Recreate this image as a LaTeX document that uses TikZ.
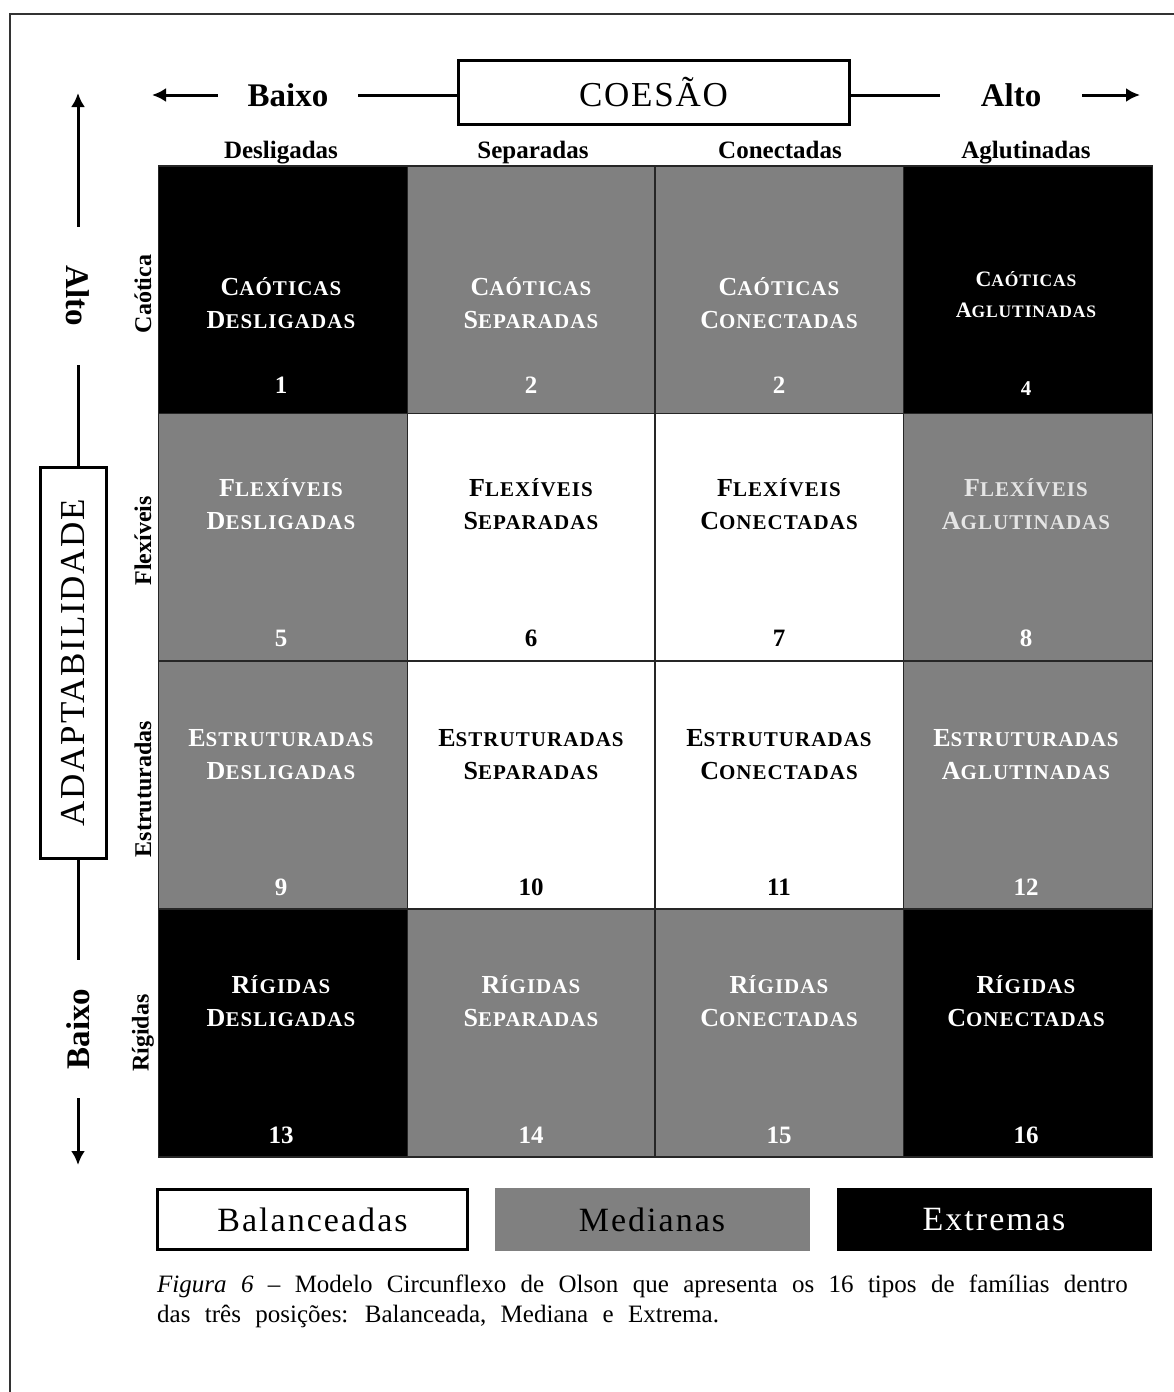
\documentclass[tikz,border=0pt]{standalone}
\usepackage{fontspec}
\setmainfont{Liberation Serif}
\newfontfamily\spaced[LetterSpace=5]{Liberation Serif}
\newfontfamily\wide[LetterSpace=6]{Liberation Serif}
\newfontfamily\captfont[WordSpace=2.3]{Liberation Serif}
\usetikzlibrary{arrows.meta}

% small caps by hand: big first letter, small rest
\newcommand{\smc}[2]{{\fontsize{26}{33}\selectfont #1}#2}
\newcommand{\smcs}[2]{{\fontsize{22}{31}\selectfont #1}#2}

\tikzset{
  cell/.style={minimum width=249, minimum height=248, draw=black!85, line width=1.5, inner sep=0},
  cellblack/.style={cell, fill=black},
  cellgray/.style={cell, fill=black!50},
  cellwhite/.style={cell, fill=white},
  celltext/.style={align=center, text=white, font=\spaced\bfseries\fontsize{21}{33}\selectfont},
  cellnum/.style={text=white, font=\bfseries\fontsize{25}{30}\selectfont},
  colhead/.style={anchor=base, font=\bfseries\fontsize{25}{30}\selectfont},
  rowhead/.style={rotate=90, font=\bfseries\fontsize{24}{28}\selectfont},
  axisword/.style={font=\bfseries\fontsize{33}{40}\selectfont, inner sep=0},
  axisline/.style={line width=3},
  titlebox/.style={draw, line width=3, fill=white, font=\spaced\fontsize{35}{40}\selectfont},
  legbox/.style={minimum width=315, minimum height=63, inner sep=0, font=\wide\fontsize{34}{40}\selectfont}
}

\begin{document}
\begin{tikzpicture}[x=1pt, y=-1pt]
  \useasboundingbox (0,0) rectangle (1174,1392);

  %%%%%%%%%%%Outer frame%%%%%%%%%%%
  \draw[line width=2, black!80] (10,1400) -- (10,14) -- (1180,14);

  %%%%%%%%%%%Cohesion axis%%%%%%%%%%%
  \node[titlebox, minimum width=391, minimum height=64] (coesao) at (653.5,92) {COESÃO};
  \node[axisword, minimum width=140] (baixoT) at (288,95) {Baixo};
  \node[axisword, minimum width=142] (altoT) at (1011,95) {Alto};
  \coordinate (tipL) at (152,95);
  \coordinate (tipR) at (1140,95);
  \draw[axisline, -{Latex[length=14,width=14]}] (baixoT.west) -- (tipL);
  \draw[axisline] (baixoT.east) -- (baixoT.east -| coesao.west);
  \draw[axisline] (altoT.west -| coesao.east) -- (altoT.west);
  \draw[axisline, -{Latex[length=14,width=14]}] (altoT.east) -- (tipR);

  \node[colhead] (hdes) at (281,158) {Desligadas};
  \node[colhead] (hsep) at (533,158) {Separadas};
  \node[colhead] (hcon) at (780,158) {Conectadas};
  \node[colhead] (hagl) at (1026,158) {Aglutinadas};

  %%%%%%%%%%%Adaptability axis%%%%%%%%%%%
  \node[titlebox, rotate=90, minimum width=391, minimum height=66] (adapt) at (73,662.5) {ADAPTABILIDADE};
  \node[axisword, rotate=-90, minimum width=138] (altoL) at (78,296) {Alto};
  \node[axisword, rotate=90, minimum width=138] (baixoL) at (78,1029) {Baixo};
  \coordinate (tipU) at (78,93);
  \coordinate (tipD) at (78,1165);
  \draw[axisline, -{Latex[length=14,width=14]}] (altoL.west) -- (tipU);
  \draw[axisline] (altoL.east) -- (altoL.east |- adapt.east);
  \draw[axisline] (baixoL.east |- adapt.west) -- (baixoL.east);
  \draw[axisline, -{Latex[length=14,width=14]}] (baixoL.west) -- (tipD);

  \node[rowhead] (rcao) at (143,294) {Caótica};
  \node[rowhead] (rfle) at (143,541) {Flexíveis};
  \node[rowhead] (rest) at (143,789) {Estruturadas};
  \node[rowhead] (rrig) at (143,1033) {Rígidas};

  %%%%%%%%%%%Row 1%%%%%%%%%%%
  \node[cellblack] (c1) at (283,290) {};
  \node[cellgray] (c2) at (532,290) {};
  \node[cellgray] (c3) at (779.5,290) {};
  \node[cellblack] (c4) at (1028,290) {};
  \node[celltext] (t1) at (281,303.5) {\smc{C}{AÓTICAS}\\\smc{D}{ESLIGADAS}};
  \node[celltext] (t2) at (531,303.5) {\smc{C}{AÓTICAS}\\\smc{S}{EPARADAS}};
  \node[celltext] (t3) at (779,303.5) {\smc{C}{AÓTICAS}\\\smc{C}{ONECTADAS}};
  \node[celltext, font=\spaced\bfseries\fontsize{17.5}{31}\selectfont] (t4) at (1026,294.5) {\smcs{C}{AÓTICAS}\\\smcs{A}{GLUTINADAS}};
  \node[cellnum] (n1) at (281,385) {1};
  \node[cellnum] (n2) at (531,385) {2};
  \node[cellnum] (n3) at (779,385) {2};
  \node[cellnum, font=\bfseries\fontsize{21}{26}\selectfont] (n4) at (1026,389) {4};

  %%%%%%%%%%%Row 2%%%%%%%%%%%
  \node[cellgray] (c5) at (283,537.5) {};
  \node[cellwhite] (c6) at (532,537.5) {};
  \node[cellwhite] (c7) at (779.5,537.5) {};
  \node[cellgray] (c8) at (1028,537.5) {};
  \node[celltext] (t5) at (281,504.5) {\smc{F}{LEXÍVEIS}\\\smc{D}{ESLIGADAS}};
  \node[celltext, text=black] (t6) at (531,504.5) {\smc{F}{LEXÍVEIS}\\\smc{S}{EPARADAS}};
  \node[celltext, text=black] (t7) at (779,504.5) {\smc{F}{LEXÍVEIS}\\\smc{C}{ONECTADAS}};
  \node[celltext, text=black!10] (t8) at (1026,504.5) {\smc{F}{LEXÍVEIS}\\\smc{A}{GLUTINADAS}};
  \node[cellnum] (n5) at (281,638) {5};
  \node[cellnum, text=black] (n6) at (531,638) {6};
  \node[cellnum, text=black] (n7) at (779,638) {7};
  \node[cellnum] (n8) at (1026,638) {8};

  %%%%%%%%%%%Row 3%%%%%%%%%%%
  \node[cellgray] (c9) at (283,785) {};
  \node[cellwhite] (c10) at (532,785) {};
  \node[cellwhite] (c11) at (779.5,785) {};
  \node[cellgray] (c12) at (1028,785) {};
  \node[celltext] (t9) at (281,754.5) {\smc{E}{STRUTURADAS}\\\smc{D}{ESLIGADAS}};
  \node[celltext, text=black] (t10) at (531,754.5) {\smc{E}{STRUTURADAS}\\\smc{S}{EPARADAS}};
  \node[celltext, text=black] (t11) at (779,754.5) {\smc{E}{STRUTURADAS}\\\smc{C}{ONECTADAS}};
  \node[celltext] (t12) at (1026,754.5) {\smc{E}{STRUTURADAS}\\\smc{A}{GLUTINADAS}};
  \node[cellnum] (n9) at (281,887) {9};
  \node[cellnum, text=black] (n10) at (531,887) {10};
  \node[cellnum, text=black] (n11) at (779,887) {11};
  \node[cellnum] (n12) at (1026,887) {12};

  %%%%%%%%%%%Row 4%%%%%%%%%%%
  \node[cellblack] (c13) at (283,1033) {};
  \node[cellgray] (c14) at (532,1033) {};
  \node[cellgray] (c15) at (779.5,1033) {};
  \node[cellblack] (c16) at (1028,1033) {};
  \node[celltext] (t13) at (281,1001.5) {\smc{R}{ÍGIDAS}\\\smc{D}{ESLIGADAS}};
  \node[celltext] (t14) at (531,1001.5) {\smc{R}{ÍGIDAS}\\\smc{S}{EPARADAS}};
  \node[celltext] (t15) at (779,1001.5) {\smc{R}{ÍGIDAS}\\\smc{C}{ONECTADAS}};
  \node[celltext] (t16) at (1026,1001.5) {\smc{R}{ÍGIDAS}\\\smc{C}{ONECTADAS}};
  \node[cellnum] (n13) at (281,1135) {13};
  \node[cellnum] (n14) at (531,1135) {14};
  \node[cellnum] (n15) at (779,1135) {15};
  \node[cellnum] (n16) at (1026,1135) {16};

  %%%%%%%%%%%Legend%%%%%%%%%%%
  \node[legbox, draw, line width=3.5, fill=white, minimum width=310, minimum height=60] (lbal) at (312.5,1219.5) {Balanceadas};
  \node[legbox, fill=black!50] (lmed) at (652,1219.5) {Medianas};
  \node[legbox, fill=black, text=white] (lext) at (994,1219.5) {Extremas};

  %%%%%%%%%%%Caption%%%%%%%%%%%
  \node[anchor=north west, align=left, inner sep=0, font=\captfont\fontsize{25}{30}\selectfont] (capt) at (157,1275)
    {\textit{Figura 6} – Modelo Circunflexo de Olson que apresenta os 16 tipos de famílias dentro\\
     das três posições: Balanceada, Mediana e Extrema.};
\end{tikzpicture}
\end{document}
